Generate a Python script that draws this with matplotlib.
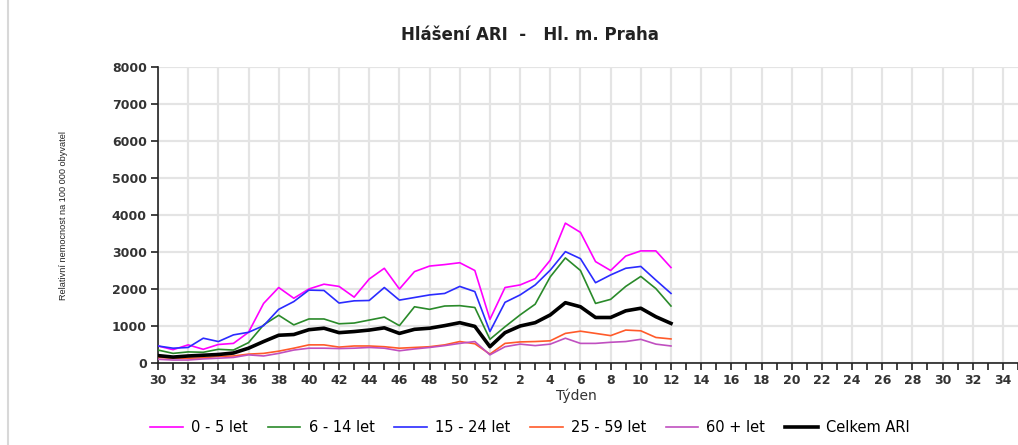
import matplotlib
matplotlib.use("Agg")
import matplotlib.pyplot as plt
from matplotlib.lines import Line2D

plt.rcParams['font.family'] = ['DejaVu Sans']

# week numbers of the season (30..52, then 1..35)
weeks = list(range(30, 53)) + list(range(1, 36))

# values per 100 000 inhabitants, weeks 30 .. 12
age_0_5 = [460, 360, 490, 370, 500, 530, 830, 1610, 2040, 1750, 2000, 2130, 2070, 1780, 2270,
           2560, 2000, 2470, 2620, 2660, 2710, 2500, 1180, 2040, 2110, 2280, 2780, 3780, 3530,
           2740, 2500, 2890, 3030, 3030, 2580]
age_6_14 = [350, 260, 300, 290, 370, 350, 550, 1030, 1290, 1030, 1190, 1190, 1060, 1080, 1160,
            1240, 1010, 1520, 1450, 1540, 1550, 1500, 640, 980, 1300, 1590, 2330, 2840, 2500,
            1610, 1720, 2070, 2340, 2010, 1540]
age_15_24 = [460, 400, 420, 670, 580, 760, 830, 1010, 1450, 1660, 1970, 1960, 1620, 1680, 1690,
             2040, 1700, 1770, 1840, 1880, 2070, 1930, 850, 1640, 1840, 2110, 2510, 3010, 2820,
             2170, 2380, 2560, 2610, 2240, 1880]
age_25_59 = [150, 130, 130, 140, 180, 190, 240, 260, 320, 400, 490, 490, 430, 460, 460,
             440, 400, 420, 440, 490, 580, 520, 240, 530, 570, 580, 600, 800, 860,
             800, 740, 890, 870, 690, 650]
age_60 = [100, 80, 80, 110, 130, 150, 220, 190, 260, 350, 400, 400, 390, 400, 420,
          400, 330, 380, 420, 470, 530, 580, 220, 440, 510, 470, 510, 670, 530,
          530, 560, 580, 640, 510, 460]
total = [200, 160, 190, 210, 230, 270, 400, 580, 750, 770, 900, 940, 820, 850, 890,
         950, 800, 910, 940, 1010, 1090, 990, 440, 820, 1000, 1090, 1300, 1630, 1520,
         1230, 1230, 1410, 1480, 1250, 1070]

series = [
    ("0 - 5 let", age_0_5, "#ff00ff", 1.2),
    ("6 - 14 let", age_6_14, "#2a8a2a", 1.2),
    ("15 - 24 let", age_15_24, "#2b2bff", 1.2),
    ("25 - 59 let", age_25_59, "#ff5a2a", 1.2),
    ("60 + let", age_60, "#c050c0", 1.2),
    ("Celkem ARI", total, "black", 2.6),
]

fig = plt.figure(figsize=(10.18, 4.45), dpi=100)
ax = fig.add_axes([158 / 1018, 1 - 363 / 445, 1 - 158 / 1018, (363 - 67) / 445])

x = list(range(len(total)))
for label, vals, color, lw in series:
    ax.plot(x, vals, color=color, lw=lw, label=label, zorder=3)

ax.set_xlim(0, 57)
ax.set_ylim(0, 8000)

major = list(range(0, len(weeks) - 1, 2))
ax.set_xticks(major)
ax.set_xticklabels([str(weeks[i]) for i in major])
ax.set_xticks(range(0, 58), minor=True)
ax.set_yticks(range(0, 8001, 1000))

ax.grid(True, color="#e4e4e4", lw=1.6, zorder=0)
ax.set_axisbelow(True)

for s in ["top", "right"]:
    ax.spines[s].set_visible(False)
for s in ["left", "bottom"]:
    ax.spines[s].set_color("#222222")
    ax.spines[s].set_linewidth(1.2)

ax.tick_params(axis="both", which="both", direction="out", length=5, width=1.2, color="#222222")
ax.tick_params(axis="both", labelsize=9, labelcolor="#333333", pad=3)
for t in ax.get_xticklabels() + ax.get_yticklabels():
    t.set_fontweight("bold")

fig.text(530 / 1018, 1 - 35 / 445, "Hlášení ARI  -   Hl. m. Praha", ha="center", va="center",
         fontsize=12, fontweight="bold", color="#222222")
fig.text(63 / 1018, 1 - 215 / 445, "Relativní nemocnost na 100 000 obyvatel", rotation=90,
         ha="center", va="center", fontsize=6.6, color="#222222",
         family=["Liberation Sans Narrow", "Liberation Sans", "DejaVu Sans"])
fig.text(576 / 1018, 1 - 396 / 445, "Týden", ha="center", va="center", fontsize=10,
         color="#333333")

fig.legend(loc="center", bbox_to_anchor=(530 / 1018, 1 - 428 / 445), ncol=6, frameon=False,
           fontsize=10.5, handlelength=2.25, handletextpad=0.55, columnspacing=1.35)

# thin grey frame line on the left edge
fig.add_artist(Line2D([8 / 1018, 8 / 1018], [0, 1], transform=fig.transFigure,
                      color="#d8d8d8", lw=1.5))

plt.savefig("out.png", dpi=100)
plt.close()
